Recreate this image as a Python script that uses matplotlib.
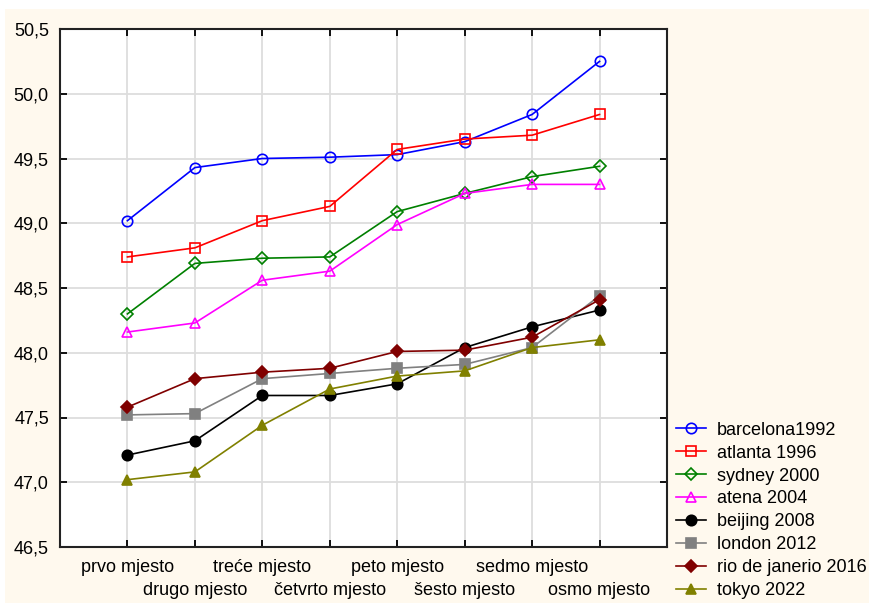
import matplotlib
matplotlib.use('agg')
import matplotlib.pyplot as plt
from matplotlib.patches import Rectangle
from matplotlib.ticker import FuncFormatter, MultipleLocator

plt.rcParams['font.family'] = ['Liberation Sans', 'DejaVu Sans']

categories = ['prvo mjesto', 'drugo mjesto', 'treće mjesto', 'četvrto mjesto',
              'peto mjesto', 'šesto mjesto', 'sedmo mjesto', 'osmo mjesto']

barcelona = [49.02, 49.43, 49.50, 49.51, 49.53, 49.63, 49.84, 50.25]
atlanta = [48.74, 48.81, 49.02, 49.13, 49.57, 49.65, 49.68, 49.84]
sydney = [48.30, 48.69, 48.73, 48.74, 49.09, 49.23, 49.36, 49.44]
atena = [48.16, 48.23, 48.56, 48.63, 48.99, 49.23, 49.30, 49.30]
beijing = [47.21, 47.32, 47.67, 47.67, 47.76, 48.04, 48.20, 48.33]
london = [47.52, 47.53, 47.80, 47.84, 47.88, 47.91, 48.04, 48.44]
rio = [47.58, 47.80, 47.85, 47.88, 48.01, 48.02, 48.12, 48.41]
tokyo = [47.02, 47.08, 47.44, 47.72, 47.82, 47.86, 48.04, 48.10]

series = [
    ('barcelona1992', barcelona, '#0000ff', 'o', 'none'),
    ('atlanta 1996', atlanta, '#ff0000', 's', 'none'),
    ('sydney 2000', sydney, '#008000', 'D', 'none'),
    ('atena 2004', atena, '#ff00ff', '^', 'none'),
    ('beijing 2008', beijing, '#000000', 'o', 'full'),
    ('london 2012', london, '#808080', 's', 'full'),
    ('rio de janerio 2016', rio, '#800000', 'D', 'full'),
    ('tokyo 2022', tokyo, '#808000', '^', 'full'),
]

cream = '#fff9ee'
fig = plt.figure(figsize=(8.69, 6.03), dpi=100, facecolor='white')
fig.patches.append(Rectangle((5 / 869, 0), 1, 1 - 9 / 603, transform=fig.transFigure,
                             facecolor=cream, edgecolor='none', zorder=-1))
ax = fig.add_axes([60 / 869, 1 - 547 / 603, 607 / 869, 518 / 603])
ax.set_facecolor('white')

x = list(range(1, len(categories) + 1))
for name, vals, color, marker, fill in series:
    small = marker == 'D'
    ax.plot(x, vals, color=color, lw=1.2, marker=marker,
            markersize=6 if small else 7.5,
            markerfacecolor='none' if fill == 'none' else color,
            markeredgecolor=color, markeredgewidth=1.2, label=name, zorder=3)

ax.set_xlim(0, 9)
ax.set_ylim(46.5, 50.5)
ax.set_xticks(x)
ax.set_xticklabels(categories)
ax.yaxis.set_major_locator(MultipleLocator(0.5))
ax.yaxis.set_major_formatter(FuncFormatter(lambda v, p: f'{v:.1f}'.replace('.', ',')))
ax.grid(True, color='#dddddd', lw=1.3, zorder=0)
ax.tick_params(direction='in', length=5, width=1.3, top=True, right=True,
               labelsize=13, colors='black')
ax.tick_params(axis='x', pad=9)
ax.tick_params(axis='y', pad=8)
# stagger the category labels on two rows
for i, t in enumerate(ax.xaxis.get_major_ticks()):
    if i % 2 == 1:
        t.set_pad(25.5)
for s in ax.spines.values():
    s.set_linewidth(1.5)
    s.set_color('#222222')

ax.legend(loc='upper left', bbox_to_anchor=(1.003, 0.256), borderaxespad=0,
          frameon=False, fontsize=13, handlelength=1.67, labelspacing=0.33,
          handletextpad=0.6)

fig.savefig('out.png', dpi=100, facecolor=fig.get_facecolor())
